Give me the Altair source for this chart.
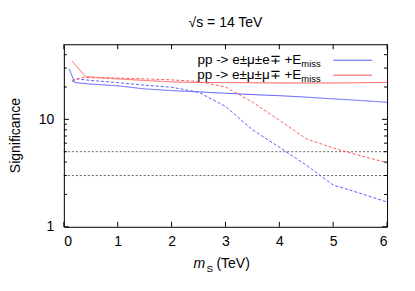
import altair as alt
import pandas as pd

# ---- data ----
blue_solid_x = [0.1, 0.2, 0.5, 1.0, 1.5, 2.0, 2.5, 3.0, 3.5, 4.0, 4.5, 5.0, 5.5, 6.0]
blue_solid_y = [29.5, 22.0, 21.3, 20.5, 19.2, 18.5, 18.0, 17.5, 17.0, 16.6, 16.1, 15.5, 15.0, 14.4]

blue_dash_x = [0.15, 0.25, 0.5, 1.0, 1.5, 2.0, 2.5, 3.0, 3.5, 4.0, 4.5, 5.0, 5.5, 6.0]
blue_dash_y = [22.5, 23.8, 23.0, 22.0, 20.8, 19.9, 17.9, 13.2, 8.0, 5.5, 3.75, 2.45, 2.05, 1.7]

red_solid_x = [0.15, 0.4, 1.0, 1.5, 2.0, 2.5, 3.0, 3.5, 4.0, 4.5, 5.0, 5.5, 6.0]
red_solid_y = [35.0, 25.0, 23.8, 23.0, 22.3, 22.0, 22.0, 21.9, 21.8, 21.8, 21.8, 21.9, 22.1]

red_dash_x = [0.15, 0.35, 1.0, 1.5, 2.0, 2.5, 3.0, 3.5, 4.0, 4.5, 5.0, 5.5, 6.0]
red_dash_y = [23.0, 24.5, 24.2, 23.8, 23.3, 22.5, 20.0, 14.5, 9.8, 6.6, 5.4, 4.6, 3.95]

thresholds = [5, 3]
x_ticks = [0, 1, 2, 3, 4, 5, 6]
y_major = [1, 10]
y_minor = [2, 3, 4, 5, 6, 7, 8, 9, 20, 30, 40]

legend_labels = ["pp -> e\u00b1\u03bc\u00b1e\u2213 +E", "pp -> e\u00b1\u03bc\u00b1\u03bc\u2213 +E"]
legend_sub = ["miss", "miss"]
legend_colors = ["#5a5aff", "#ff5a5a"]
title_text = "\u221as = 14 TeV"

W, H = 324, 183
FONT = "Liberation Sans"

rows = []
for xs, ys, key, style in [
    (blue_solid_x, blue_solid_y, "blue_solid", "solid"),
    (blue_dash_x, blue_dash_y, "blue_dash", "dashed"),
    (red_solid_x, red_solid_y, "red_solid", "solid"),
    (red_dash_x, red_dash_y, "red_dash", "dashed"),
]:
    for i, (a, b) in enumerate(zip(xs, ys)):
        rows.append({"x": a, "y": b, "series": key, "style": style, "i": i})
df = pd.DataFrame(rows)

xscale = alt.Scale(domain=[0, 6], nice=False)
yscale = alt.Scale(type="log", domain=[1, 50], nice=False)

lines = alt.Chart(df).mark_line(strokeWidth=1, clip=True).encode(
    x=alt.X("x:Q", scale=xscale,
            axis=alt.Axis(values=x_ticks, ticks=False, tickSize=0, domain=False, grid=False,
                          labelFontSize=14, labelFont=FONT, labelColor="black",
                          labelPadding=8, title=None, format="d")),
    y=alt.Y("y:Q", scale=yscale,
            axis=alt.Axis(values=y_major, ticks=False, tickSize=0, domain=False, grid=False,
                          labelFontSize=14, labelFont=FONT, labelColor="black",
                          labelPadding=10, title=None, format="d")),
    color=alt.Color("series:N", legend=None,
                    scale=alt.Scale(domain=["blue_solid", "blue_dash", "red_solid", "red_dash"],
                                    range=[legend_colors[0], legend_colors[0],
                                           legend_colors[1], legend_colors[1]])),
    strokeDash=alt.StrokeDash("style:N", legend=None,
                              scale=alt.Scale(domain=["solid", "dashed"], range=[[1, 0], [3, 2]])),
    order="i:Q",
)

thr = alt.Chart(pd.DataFrame({"t": thresholds})).mark_rule(
    color="#666666", strokeWidth=1, strokeDash=[2, 2]
).encode(y=alt.Y("t:Q", scale=yscale), x=alt.value(0), x2=alt.value(W))

xt = pd.DataFrame({"x": x_ticks})
xt_bot = alt.Chart(xt).mark_rule(color="black").encode(
    x=alt.X("x:Q", scale=xscale), y=alt.value(H), y2=alt.value(H - 5))
xt_top = alt.Chart(xt).mark_rule(color="black").encode(
    x=alt.X("x:Q", scale=xscale), y=alt.value(0), y2=alt.value(5))

ymaj = pd.DataFrame({"y": y_major})
ymin = pd.DataFrame({"y": y_minor})
yt_l1 = alt.Chart(ymaj).mark_rule(color="black").encode(
    y=alt.Y("y:Q", scale=yscale), x=alt.value(0), x2=alt.value(5))
yt_r1 = alt.Chart(ymaj).mark_rule(color="black").encode(
    y=alt.Y("y:Q", scale=yscale), x=alt.value(W - 5), x2=alt.value(W))
yt_l2 = alt.Chart(ymin).mark_rule(color="black").encode(
    y=alt.Y("y:Q", scale=yscale), x=alt.value(0), x2=alt.value(3))
yt_r2 = alt.Chart(ymin).mark_rule(color="black").encode(
    y=alt.Y("y:Q", scale=yscale), x=alt.value(W - 3), x2=alt.value(W))

# legend (one layer per entry, positioned in pixels)
legend_layers = []
for k in range(2):
    d = pd.DataFrame({"label": [legend_labels[k]], "sub": [legend_sub[k]]})
    ly = 16 + 15 * k
    legend_layers.append(alt.Chart(d).mark_rule(strokeWidth=1, color=legend_colors[k]).encode(
        x=alt.value(270), x2=alt.value(309), y=alt.value(ly)))
    legend_layers.append(alt.Chart(d).mark_text(align="right", baseline="alphabetic", fontSize=13.5,
                                                font=FONT, color="black").encode(
        x=alt.value(238), y=alt.value(ly + 4), text="label:N"))
    legend_layers.append(alt.Chart(d).mark_text(align="left", baseline="alphabetic", fontSize=9.5,
                                                font=FONT, color="black").encode(
        x=alt.value(238), y=alt.value(ly + 7), text="sub:N"))

# titles
tdf = pd.DataFrame({"t": [title_text]})
title = alt.Chart(tdf).mark_text(align="center", baseline="alphabetic", fontSize=14,
                                 font=FONT, color="black").encode(
    x=alt.value(W / 2), y=alt.value(-17), text="t:N")

ydf = pd.DataFrame({"t": ["Significance"]})
ytitle = alt.Chart(ydf).mark_text(align="center", baseline="middle", fontSize=14, angle=270,
                                  font=FONT, color="black").encode(
    x=alt.value(-48), y=alt.value(H / 2), text="t:N")

xdf = pd.DataFrame({"a": ["m"], "b": ["S"], "c": ["(TeV)"]})
xm = alt.Chart(xdf).mark_text(align="left", baseline="alphabetic", fontSize=14, fontStyle="italic",
                              font=FONT, color="black").encode(
    x=alt.value(130), y=alt.value(224), text="a:N")
xs_ = alt.Chart(xdf).mark_text(align="left", baseline="alphabetic", fontSize=10,
                               font=FONT, color="black").encode(
    x=alt.value(143), y=alt.value(228), text="b:N")
xt_ = alt.Chart(xdf).mark_text(align="left", baseline="alphabetic", fontSize=14,
                               font=FONT, color="black").encode(
    x=alt.value(153), y=alt.value(224), text="c:N")

chart = alt.layer(
    thr, lines, xt_bot, xt_top, yt_l1, yt_r1, yt_l2, yt_r2,
    *legend_layers, title, ytitle, xm, xs_, xt_
).properties(
    width=W, height=H,
    autosize=alt.AutoSizeParams(type="none"),
    padding={"left": 56, "top": 36, "right": 20, "bottom": 50},
    background="white",
).configure_view(stroke="black", strokeWidth=1)

chart.save("out.html", embed_options={"renderer": "svg", "actions": False})
